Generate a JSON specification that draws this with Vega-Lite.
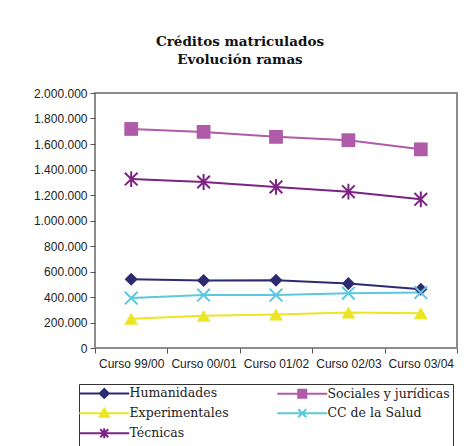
{
  "$schema": "https://vega.github.io/schema/vega-lite/v6.json",
  "width": 362,
  "height": 255,
  "autosize": "none",
  "padding": {"left": 95, "top": 93, "right": 16, "bottom": 98},
  "background": "white",
  "config": {
    "locale": {"number": {"decimal": ",", "thousands": ".", "grouping": [3], "currency": ["", " €"]}},
    "view": {"stroke": "#8c8c8c", "strokeWidth": 2},
    "axis": {"labelFont": "Liberation Sans", "labelFontSize": 12, "labelColor": "#222", "domain": false, "tickColor": "#555", "tickWidth": 1, "grid": false, "title": null}
  },
  "title": {
    "text": ["Créditos matriculados", "Evolución ramas"],
    "font": "DejaVu Serif",
    "fontSize": 13.5,
    "fontWeight": "bold",
    "color": "#111",
    "anchor": "middle",
    "dx": -36,
    "offset": 21,
    "lineHeight": 18
  },
  "data": {
    "values": [
      {"curso": "Curso 99/00", "rama": "Humanidades", "valor": 540000},
      {"curso": "Curso 00/01", "rama": "Humanidades", "valor": 530000},
      {"curso": "Curso 01/02", "rama": "Humanidades", "valor": 532000},
      {"curso": "Curso 02/03", "rama": "Humanidades", "valor": 505000},
      {"curso": "Curso 03/04", "rama": "Humanidades", "valor": 460000},
      {"curso": "Curso 99/00", "rama": "Sociales y jurídicas", "valor": 1718000},
      {"curso": "Curso 00/01", "rama": "Sociales y jurídicas", "valor": 1695000},
      {"curso": "Curso 01/02", "rama": "Sociales y jurídicas", "valor": 1656000},
      {"curso": "Curso 02/03", "rama": "Sociales y jurídicas", "valor": 1630000},
      {"curso": "Curso 03/04", "rama": "Sociales y jurídicas", "valor": 1558000},
      {"curso": "Curso 99/00", "rama": "Experimentales", "valor": 230000},
      {"curso": "Curso 00/01", "rama": "Experimentales", "valor": 252000},
      {"curso": "Curso 01/02", "rama": "Experimentales", "valor": 263000},
      {"curso": "Curso 02/03", "rama": "Experimentales", "valor": 278000},
      {"curso": "Curso 03/04", "rama": "Experimentales", "valor": 272000},
      {"curso": "Curso 99/00", "rama": "CC de la Salud", "valor": 392000},
      {"curso": "Curso 00/01", "rama": "CC de la Salud", "valor": 415000},
      {"curso": "Curso 01/02", "rama": "CC de la Salud", "valor": 415000},
      {"curso": "Curso 02/03", "rama": "CC de la Salud", "valor": 430000},
      {"curso": "Curso 03/04", "rama": "CC de la Salud", "valor": 435000},
      {"curso": "Curso 99/00", "rama": "Técnicas", "valor": 1325000},
      {"curso": "Curso 00/01", "rama": "Técnicas", "valor": 1302000},
      {"curso": "Curso 01/02", "rama": "Técnicas", "valor": 1263000},
      {"curso": "Curso 02/03", "rama": "Técnicas", "valor": 1226000},
      {"curso": "Curso 03/04", "rama": "Técnicas", "valor": 1166000}
    ]
  },
  "encoding": {
    "x": {
      "field": "curso", "type": "nominal",
      "sort": ["Curso 99/00", "Curso 00/01", "Curso 01/02", "Curso 02/03", "Curso 03/04"],
      "scale": {"type": "band", "paddingInner": 0, "paddingOuter": 0},
      "axis": {"labelAngle": 0, "tickBand": "extent", "labelPadding": 5, "tickSize": 5}
    },
    "y": {
      "field": "valor", "type": "quantitative",
      "scale": {"domain": [0, 2000000], "nice": false},
      "axis": {"values": [0, 200000, 400000, 600000, 800000, 1000000, 1200000, 1400000, 1600000, 1800000, 2000000], "format": ",d", "tickSize": 5, "labelPadding": 3}
    }
  },
  "layer": [
    {
      "mark": {"type": "line", "strokeWidth": 2},
      "encoding": {
        "color": {
          "field": "rama", "type": "nominal",
          "scale": {
            "domain": ["Humanidades", "Sociales y jurídicas", "Experimentales", "CC de la Salud", "Técnicas"],
            "range": ["#2e2a72", "#b05ba8", "#ebe621", "#5bc8dc", "#7b2483"]
          },
          "legend": {
            "orient": "none",
            "legendX": -16,
            "legendY": 291,
            "columns": 2,
            "direction": "horizontal",
            "title": null,
            "strokeColor": "#333",
            "fillColor": "white",
            "padding": 3,
            "labelFont": "DejaVu Serif",
            "labelFontSize": 12.5,
            "labelColor": "#222",
            "labelLimit": 250,
            "symbolSize": 100,
            "symbolOffset": 16,
            "labelOffset": 19,
            "rowPadding": 2,
            "columnPadding": 44,
            "encode": {
              "symbols": {
                "update": {
                  "shape": {"signal": "datum.value === 'Humanidades' ? 'M-5,0L5,0M0,-0.9L0.9,0L0,0.9L-0.9,0Z' : datum.value === 'Sociales y jurídicas' ? 'M-5,0L5,0M-0.8,-0.8L0.8,-0.8L0.8,0.8L-0.8,0.8Z' : datum.value === 'Experimentales' ? 'M-5,0L5,0M0,-0.9L0.9,0.7L-0.9,0.7Z' : datum.value === 'CC de la Salud' ? 'M-5,0L5,0M-0.8,-0.8L0.8,0.8M-0.8,0.8L0.8,-0.8' : 'M-5,0L5,0M-0.8,-0.8L0.8,0.8M-0.8,0.8L0.8,-0.8M0,-1L0,1M-1,0L1,0'"},
                  "fill": {"signal": "scale('color', datum.value)"},
                  "stroke": {"signal": "scale('color', datum.value)"},
                  "strokeWidth": {"value": 2},
                  "opacity": {"value": 1},
                  "fillOpacity": {"value": 1}
                }
              }
            }
          }
        }
      }
    },
    {
      "transform": [{"filter": "datum.rama === 'Humanidades'"}],
      "mark": {"type": "point", "shape": "diamond", "filled": true, "size": 170, "color": "#2e2a72", "opacity": 1}
    },
    {
      "transform": [{"filter": "datum.rama === 'Sociales y jurídicas'"}],
      "mark": {"type": "point", "shape": "square", "filled": true, "size": 190, "color": "#b05ba8", "opacity": 1}
    },
    {
      "transform": [{"filter": "datum.rama === 'Experimentales'"}],
      "mark": {"type": "point", "shape": "triangle-up", "filled": true, "size": 190, "color": "#ebe621", "opacity": 1}
    },
    {
      "transform": [{"filter": "datum.rama === 'CC de la Salud'"}],
      "mark": {"type": "point", "shape": "M-1,-1L1,1M-1,1L1,-1", "filled": false, "size": 160, "strokeWidth": 2, "color": "#5bc8dc", "opacity": 1}
    },
    {
      "transform": [{"filter": "datum.rama === 'Técnicas'"}],
      "mark": {"type": "point", "shape": "M-1,-1L1,1M-1,1L1,-1M0,-1.25L0,1.25", "filled": false, "size": 160, "strokeWidth": 2, "color": "#7b2483", "opacity": 1}
    }
  ]
}
